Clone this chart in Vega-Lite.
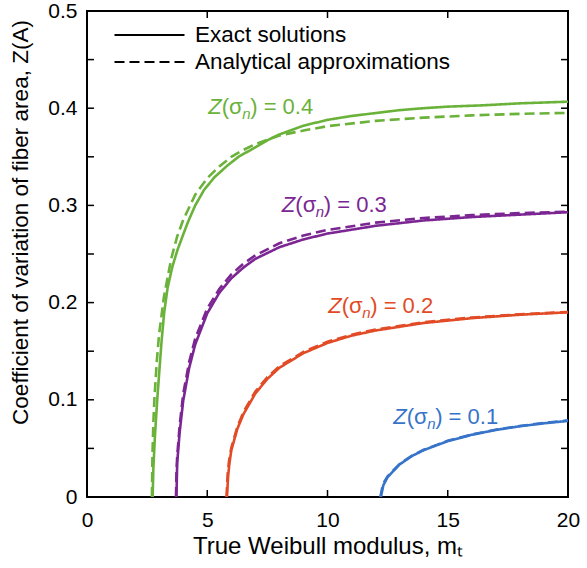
{
  "$schema": "https://vega.github.io/schema/vega-lite/v6.json",
  "width": 481,
  "height": 486,
  "autosize": "none",
  "padding": {"left": 87, "top": 11, "right": 19, "bottom": 71},
  "background": "white",
  "config": {
    "font": "Liberation Sans",
    "view": {"stroke": "#000", "strokeWidth": 2},
    "axis": {
      "domain": false, "grid": false, "ticks": false,
      "labelColor": "#000", "labelFontSize": 21, "labelFont": "Liberation Sans",
      "titleFontSize": 23, "titleFontWeight": "normal", "titleColor": "#000", "titleFont": "Liberation Sans",
      "labelFlush": false, "labelOverlap": false, "labelBound": false
    }
  },
  "datasets": {
    "curves": [
      {"m": 2.73, "z": 0, "s": "0.4", "type": "Exact solutions"},
      {"m": 2.76, "z": 0.03, "s": "0.4", "type": "Exact solutions"},
      {"m": 2.83, "z": 0.065, "s": "0.4", "type": "Exact solutions"},
      {"m": 2.92, "z": 0.1, "s": "0.4", "type": "Exact solutions"},
      {"m": 3.0, "z": 0.127, "s": "0.4", "type": "Exact solutions"},
      {"m": 3.1, "z": 0.16, "s": "0.4", "type": "Exact solutions"},
      {"m": 3.21, "z": 0.19, "s": "0.4", "type": "Exact solutions"},
      {"m": 3.35, "z": 0.215, "s": "0.4", "type": "Exact solutions"},
      {"m": 3.55, "z": 0.237, "s": "0.4", "type": "Exact solutions"},
      {"m": 3.76, "z": 0.254, "s": "0.4", "type": "Exact solutions"},
      {"m": 4.0, "z": 0.27, "s": "0.4", "type": "Exact solutions"},
      {"m": 4.2, "z": 0.283, "s": "0.4", "type": "Exact solutions"},
      {"m": 4.5, "z": 0.3, "s": "0.4", "type": "Exact solutions"},
      {"m": 4.87, "z": 0.316, "s": "0.4", "type": "Exact solutions"},
      {"m": 5.3, "z": 0.329, "s": "0.4", "type": "Exact solutions"},
      {"m": 5.84, "z": 0.341, "s": "0.4", "type": "Exact solutions"},
      {"m": 6.3, "z": 0.35, "s": "0.4", "type": "Exact solutions"},
      {"m": 6.8, "z": 0.357, "s": "0.4", "type": "Exact solutions"},
      {"m": 7.5, "z": 0.367, "s": "0.4", "type": "Exact solutions"},
      {"m": 8.0, "z": 0.373, "s": "0.4", "type": "Exact solutions"},
      {"m": 9.0, "z": 0.382, "s": "0.4", "type": "Exact solutions"},
      {"m": 10, "z": 0.388, "s": "0.4", "type": "Exact solutions"},
      {"m": 11, "z": 0.392, "s": "0.4", "type": "Exact solutions"},
      {"m": 12, "z": 0.395, "s": "0.4", "type": "Exact solutions"},
      {"m": 13, "z": 0.398, "s": "0.4", "type": "Exact solutions"},
      {"m": 14, "z": 0.4, "s": "0.4", "type": "Exact solutions"},
      {"m": 15, "z": 0.4016, "s": "0.4", "type": "Exact solutions"},
      {"m": 16.5, "z": 0.403, "s": "0.4", "type": "Exact solutions"},
      {"m": 18, "z": 0.405, "s": "0.4", "type": "Exact solutions"},
      {"m": 20, "z": 0.4067, "s": "0.4", "type": "Exact solutions"},

      {"m": 2.7, "z": 0, "s": "0.4", "type": "Analytical approximations"},
      {"m": 2.72, "z": 0.042, "s": "0.4", "type": "Analytical approximations"},
      {"m": 2.76, "z": 0.077, "s": "0.4", "type": "Analytical approximations"},
      {"m": 2.8, "z": 0.1, "s": "0.4", "type": "Analytical approximations"},
      {"m": 2.9, "z": 0.139, "s": "0.4", "type": "Analytical approximations"},
      {"m": 3.0, "z": 0.168, "s": "0.4", "type": "Analytical approximations"},
      {"m": 3.2, "z": 0.206, "s": "0.4", "type": "Analytical approximations"},
      {"m": 3.5, "z": 0.245, "s": "0.4", "type": "Analytical approximations"},
      {"m": 3.75, "z": 0.268, "s": "0.4", "type": "Analytical approximations"},
      {"m": 4.0, "z": 0.285, "s": "0.4", "type": "Analytical approximations"},
      {"m": 4.5, "z": 0.311, "s": "0.4", "type": "Analytical approximations"},
      {"m": 5, "z": 0.328, "s": "0.4", "type": "Analytical approximations"},
      {"m": 5.5, "z": 0.34, "s": "0.4", "type": "Analytical approximations"},
      {"m": 6, "z": 0.35, "s": "0.4", "type": "Analytical approximations"},
      {"m": 6.5, "z": 0.357, "s": "0.4", "type": "Analytical approximations"},
      {"m": 7, "z": 0.363, "s": "0.4", "type": "Analytical approximations"},
      {"m": 8, "z": 0.372, "s": "0.4", "type": "Analytical approximations"},
      {"m": 9, "z": 0.377, "s": "0.4", "type": "Analytical approximations"},
      {"m": 10, "z": 0.3815, "s": "0.4", "type": "Analytical approximations"},
      {"m": 12, "z": 0.387, "s": "0.4", "type": "Analytical approximations"},
      {"m": 14, "z": 0.3903, "s": "0.4", "type": "Analytical approximations"},
      {"m": 16, "z": 0.3926, "s": "0.4", "type": "Analytical approximations"},
      {"m": 18, "z": 0.3942, "s": "0.4", "type": "Analytical approximations"},
      {"m": 20, "z": 0.3952, "s": "0.4", "type": "Analytical approximations"},

      {"m": 3.72, "z": 0, "s": "0.3", "type": "Exact solutions"},
      {"m": 3.75, "z": 0.035, "s": "0.3", "type": "Exact solutions"},
      {"m": 3.85, "z": 0.066, "s": "0.3", "type": "Exact solutions"},
      {"m": 4.0, "z": 0.099, "s": "0.3", "type": "Exact solutions"},
      {"m": 4.25, "z": 0.133, "s": "0.3", "type": "Exact solutions"},
      {"m": 4.5, "z": 0.157, "s": "0.3", "type": "Exact solutions"},
      {"m": 5, "z": 0.189, "s": "0.3", "type": "Exact solutions"},
      {"m": 5.5, "z": 0.21, "s": "0.3", "type": "Exact solutions"},
      {"m": 6, "z": 0.225, "s": "0.3", "type": "Exact solutions"},
      {"m": 6.5, "z": 0.236, "s": "0.3", "type": "Exact solutions"},
      {"m": 7, "z": 0.245, "s": "0.3", "type": "Exact solutions"},
      {"m": 8, "z": 0.257, "s": "0.3", "type": "Exact solutions"},
      {"m": 9, "z": 0.265, "s": "0.3", "type": "Exact solutions"},
      {"m": 10, "z": 0.271, "s": "0.3", "type": "Exact solutions"},
      {"m": 12, "z": 0.279, "s": "0.3", "type": "Exact solutions"},
      {"m": 14, "z": 0.2845, "s": "0.3", "type": "Exact solutions"},
      {"m": 16, "z": 0.288, "s": "0.3", "type": "Exact solutions"},
      {"m": 18, "z": 0.2905, "s": "0.3", "type": "Exact solutions"},
      {"m": 20, "z": 0.293, "s": "0.3", "type": "Exact solutions"},

      {"m": 3.7, "z": 0, "s": "0.3", "type": "Analytical approximations"},
      {"m": 3.72, "z": 0.025, "s": "0.3", "type": "Analytical approximations"},
      {"m": 3.75, "z": 0.042, "s": "0.3", "type": "Analytical approximations"},
      {"m": 3.85, "z": 0.073, "s": "0.3", "type": "Analytical approximations"},
      {"m": 4.0, "z": 0.106, "s": "0.3", "type": "Analytical approximations"},
      {"m": 4.25, "z": 0.139, "s": "0.3", "type": "Analytical approximations"},
      {"m": 4.5, "z": 0.163, "s": "0.3", "type": "Analytical approximations"},
      {"m": 5, "z": 0.194, "s": "0.3", "type": "Analytical approximations"},
      {"m": 5.5, "z": 0.214, "s": "0.3", "type": "Analytical approximations"},
      {"m": 6, "z": 0.229, "s": "0.3", "type": "Analytical approximations"},
      {"m": 6.5, "z": 0.24, "s": "0.3", "type": "Analytical approximations"},
      {"m": 7, "z": 0.2486, "s": "0.3", "type": "Analytical approximations"},
      {"m": 8, "z": 0.261, "s": "0.3", "type": "Analytical approximations"},
      {"m": 9, "z": 0.269, "s": "0.3", "type": "Analytical approximations"},
      {"m": 10, "z": 0.2748, "s": "0.3", "type": "Analytical approximations"},
      {"m": 12, "z": 0.2823, "s": "0.3", "type": "Analytical approximations"},
      {"m": 14, "z": 0.287, "s": "0.3", "type": "Analytical approximations"},
      {"m": 16, "z": 0.29, "s": "0.3", "type": "Analytical approximations"},
      {"m": 18, "z": 0.2921, "s": "0.3", "type": "Analytical approximations"},
      {"m": 20, "z": 0.2936, "s": "0.3", "type": "Analytical approximations"},

      {"m": 5.82, "z": 0, "s": "0.2", "type": "Exact solutions"},
      {"m": 5.87, "z": 0.022, "s": "0.2", "type": "Exact solutions"},
      {"m": 5.92, "z": 0.034, "s": "0.2", "type": "Exact solutions"},
      {"m": 6.0, "z": 0.048, "s": "0.2", "type": "Exact solutions"},
      {"m": 6.25, "z": 0.07, "s": "0.2", "type": "Exact solutions"},
      {"m": 6.5, "z": 0.085, "s": "0.2", "type": "Exact solutions"},
      {"m": 7, "z": 0.1065, "s": "0.2", "type": "Exact solutions"},
      {"m": 7.5, "z": 0.1215, "s": "0.2", "type": "Exact solutions"},
      {"m": 8, "z": 0.133, "s": "0.2", "type": "Exact solutions"},
      {"m": 9, "z": 0.148, "s": "0.2", "type": "Exact solutions"},
      {"m": 10, "z": 0.1585, "s": "0.2", "type": "Exact solutions"},
      {"m": 11, "z": 0.166, "s": "0.2", "type": "Exact solutions"},
      {"m": 12, "z": 0.1713, "s": "0.2", "type": "Exact solutions"},
      {"m": 14, "z": 0.179, "s": "0.2", "type": "Exact solutions"},
      {"m": 16, "z": 0.184, "s": "0.2", "type": "Exact solutions"},
      {"m": 18, "z": 0.1875, "s": "0.2", "type": "Exact solutions"},
      {"m": 20, "z": 0.19, "s": "0.2", "type": "Exact solutions"},

      {"m": 5.8, "z": 0, "s": "0.2", "type": "Analytical approximations"},
      {"m": 5.85, "z": 0.024, "s": "0.2", "type": "Analytical approximations"},
      {"m": 5.9, "z": 0.036, "s": "0.2", "type": "Analytical approximations"},
      {"m": 6.0, "z": 0.0506, "s": "0.2", "type": "Analytical approximations"},
      {"m": 6.25, "z": 0.072, "s": "0.2", "type": "Analytical approximations"},
      {"m": 6.5, "z": 0.0872, "s": "0.2", "type": "Analytical approximations"},
      {"m": 7, "z": 0.1086, "s": "0.2", "type": "Analytical approximations"},
      {"m": 7.5, "z": 0.1233, "s": "0.2", "type": "Analytical approximations"},
      {"m": 8, "z": 0.1345, "s": "0.2", "type": "Analytical approximations"},
      {"m": 9, "z": 0.1493, "s": "0.2", "type": "Analytical approximations"},
      {"m": 10, "z": 0.1598, "s": "0.2", "type": "Analytical approximations"},
      {"m": 11, "z": 0.167, "s": "0.2", "type": "Analytical approximations"},
      {"m": 12, "z": 0.1723, "s": "0.2", "type": "Analytical approximations"},
      {"m": 14, "z": 0.1799, "s": "0.2", "type": "Analytical approximations"},
      {"m": 16, "z": 0.1847, "s": "0.2", "type": "Analytical approximations"},
      {"m": 18, "z": 0.188, "s": "0.2", "type": "Analytical approximations"},
      {"m": 20, "z": 0.1903, "s": "0.2", "type": "Analytical approximations"},

      {"m": 12.22, "z": 0, "s": "0.1", "type": "Exact solutions"},
      {"m": 12.32, "z": 0.012, "s": "0.1", "type": "Exact solutions"},
      {"m": 12.5, "z": 0.0205, "s": "0.1", "type": "Exact solutions"},
      {"m": 13, "z": 0.0335, "s": "0.1", "type": "Exact solutions"},
      {"m": 13.5, "z": 0.042, "s": "0.1", "type": "Exact solutions"},
      {"m": 14, "z": 0.0482, "s": "0.1", "type": "Exact solutions"},
      {"m": 15, "z": 0.0575, "s": "0.1", "type": "Exact solutions"},
      {"m": 16, "z": 0.064, "s": "0.1", "type": "Exact solutions"},
      {"m": 17, "z": 0.069, "s": "0.1", "type": "Exact solutions"},
      {"m": 18, "z": 0.0728, "s": "0.1", "type": "Exact solutions"},
      {"m": 19, "z": 0.0758, "s": "0.1", "type": "Exact solutions"},
      {"m": 20, "z": 0.0783, "s": "0.1", "type": "Exact solutions"},

      {"m": 12.2, "z": 0, "s": "0.1", "type": "Analytical approximations"},
      {"m": 12.3, "z": 0.013, "s": "0.1", "type": "Analytical approximations"},
      {"m": 12.5, "z": 0.0214, "s": "0.1", "type": "Analytical approximations"},
      {"m": 13, "z": 0.034, "s": "0.1", "type": "Analytical approximations"},
      {"m": 13.5, "z": 0.0423, "s": "0.1", "type": "Analytical approximations"},
      {"m": 14, "z": 0.0486, "s": "0.1", "type": "Analytical approximations"},
      {"m": 15, "z": 0.0578, "s": "0.1", "type": "Analytical approximations"},
      {"m": 16, "z": 0.0643, "s": "0.1", "type": "Analytical approximations"},
      {"m": 17, "z": 0.0692, "s": "0.1", "type": "Analytical approximations"},
      {"m": 18, "z": 0.0731, "s": "0.1", "type": "Analytical approximations"},
      {"m": 19, "z": 0.0762, "s": "0.1", "type": "Analytical approximations"},
      {"m": 20, "z": 0.0788, "s": "0.1", "type": "Analytical approximations"}
    ],
    "labels": [
      {"m": 5.04, "z": 0.401, "s": "0.4", "rest": ") = 0.4"},
      {"m": 8.1, "z": 0.3, "s": "0.3", "rest": ") = 0.3"},
      {"m": 10.03, "z": 0.196, "s": "0.2", "rest": ") = 0.2"},
      {"m": 12.73, "z": 0.0826, "s": "0.1", "rest": ") = 0.1"}
    ],
    "yticks": [
      {"v": 0.05}, {"v": 0.1}, {"v": 0.15}, {"v": 0.2}, {"v": 0.25},
      {"v": 0.3}, {"v": 0.35}, {"v": 0.4}, {"v": 0.45}
    ],
    "xticks": [
      {"v": 5}, {"v": 10}, {"v": 15}
    ]
  },
  "layer": [
    {
      "data": {"name": "curves"},
      "mark": {"type": "line", "strokeWidth": 2.6, "clip": true},
      "encoding": {
        "x": {"field": "m", "type": "quantitative",
          "scale": {"domain": [0, 20], "nice": false, "zero": false},
          "axis": {"orient": "bottom", "values": [0, 5, 10, 15, 20], "labelPadding": 12, "title": "True Weibull modulus, mₜ", "titleFontSize": 24, "titlePadding": 4}},
        "y": {"field": "z", "type": "quantitative",
          "scale": {"domain": [0, 0.5], "nice": false},
          "axis": {"orient": "left", "values": [0, 0.1, 0.2, 0.3, 0.4, 0.5],
            "labelExpr": "datum.value == 0 ? '0' : format(datum.value, '.1f')",
            "labelPadding": 10, "title": "Coefficient of variation of fiber area, Z(A)", "titleFontSize": 22.5,
            "titleX": -67, "titleY": 211, "titleBaseline": "middle", "titleAlign": "center", "titleAngle": -90}},
        "color": {"field": "s", "type": "nominal",
          "scale": {"domain": ["0.4", "0.3", "0.2", "0.1"], "range": ["#6AB23A", "#7B2692", "#E14B26", "#3774C9"]},
          "legend": null},
        "strokeDash": {"field": "type", "type": "nominal",
          "scale": {"domain": ["Exact solutions", "Analytical approximations"], "range": [[1, 0], [10, 5]]},
          "legend": {"title": null, "orient": "none", "legendX": 26, "legendY": 13, "padding": 0,
            "symbolType": "stroke", "symbolSize": 4900, "symbolStrokeColor": "#000", "symbolStrokeWidth": 2.2,
            "labelFontSize": 22.5, "labelColor": "#000", "labelOffset": 9, "labelLimit": 400,
            "clipHeight": 22, "rowPadding": 4,
            "encode": {"symbols": {"update": {"strokeDash": {"signal": "datum.value == 'Analytical approximations' ? [18, 7] : [1, 0]"}}}}}}
      }
    },
    {
      "data": {"name": "yticks"},
      "mark": {"type": "rule", "strokeWidth": 1.5, "color": "#000"},
      "encoding": {
        "y": {"field": "v", "type": "quantitative"},
        "x": {"datum": 0, "type": "quantitative"},
        "x2": {"datum": 0.29}
      }
    },
    {
      "data": {"name": "yticks"},
      "mark": {"type": "rule", "strokeWidth": 1.5, "color": "#000"},
      "encoding": {
        "y": {"field": "v", "type": "quantitative"},
        "x": {"datum": 19.71, "type": "quantitative"},
        "x2": {"datum": 20}
      }
    },
    {
      "data": {"name": "xticks"},
      "mark": {"type": "rule", "strokeWidth": 1.5, "color": "#000"},
      "encoding": {
        "x": {"field": "v", "type": "quantitative"},
        "y": {"datum": 0, "type": "quantitative"},
        "y2": {"datum": 0.0072}
      }
    },
    {
      "data": {"name": "xticks"},
      "mark": {"type": "rule", "strokeWidth": 1.5, "color": "#000"},
      "encoding": {
        "x": {"field": "v", "type": "quantitative"},
        "y": {"datum": 0.4928, "type": "quantitative"},
        "y2": {"datum": 0.5}
      }
    },
    {
      "data": {"name": "labels"},
      "mark": {"type": "text", "fontStyle": "italic", "fontSize": 22, "align": "left", "baseline": "middle"},
      "encoding": {
        "x": {"field": "m", "type": "quantitative"},
        "y": {"field": "z", "type": "quantitative"},
        "color": {"field": "s", "type": "nominal", "legend": null},
        "text": {"value": "Z"}
      }
    },
    {
      "data": {"name": "labels"},
      "mark": {"type": "text", "fontSize": 22, "align": "left", "baseline": "middle", "dx": 13.5},
      "encoding": {
        "x": {"field": "m", "type": "quantitative"},
        "y": {"field": "z", "type": "quantitative"},
        "color": {"field": "s", "type": "nominal", "legend": null},
        "text": {"value": "(σ"}
      }
    },
    {
      "data": {"name": "labels"},
      "mark": {"type": "text", "fontStyle": "italic", "fontSize": 15, "align": "left", "baseline": "middle", "dx": 34, "dy": 7},
      "encoding": {
        "x": {"field": "m", "type": "quantitative"},
        "y": {"field": "z", "type": "quantitative"},
        "color": {"field": "s", "type": "nominal", "legend": null},
        "text": {"value": "n"}
      }
    },
    {
      "data": {"name": "labels"},
      "mark": {"type": "text", "fontSize": 22, "align": "left", "baseline": "middle", "dx": 42},
      "encoding": {
        "x": {"field": "m", "type": "quantitative"},
        "y": {"field": "z", "type": "quantitative"},
        "color": {"field": "s", "type": "nominal", "legend": null},
        "text": {"field": "rest"}
      }
    }
  ]
}
